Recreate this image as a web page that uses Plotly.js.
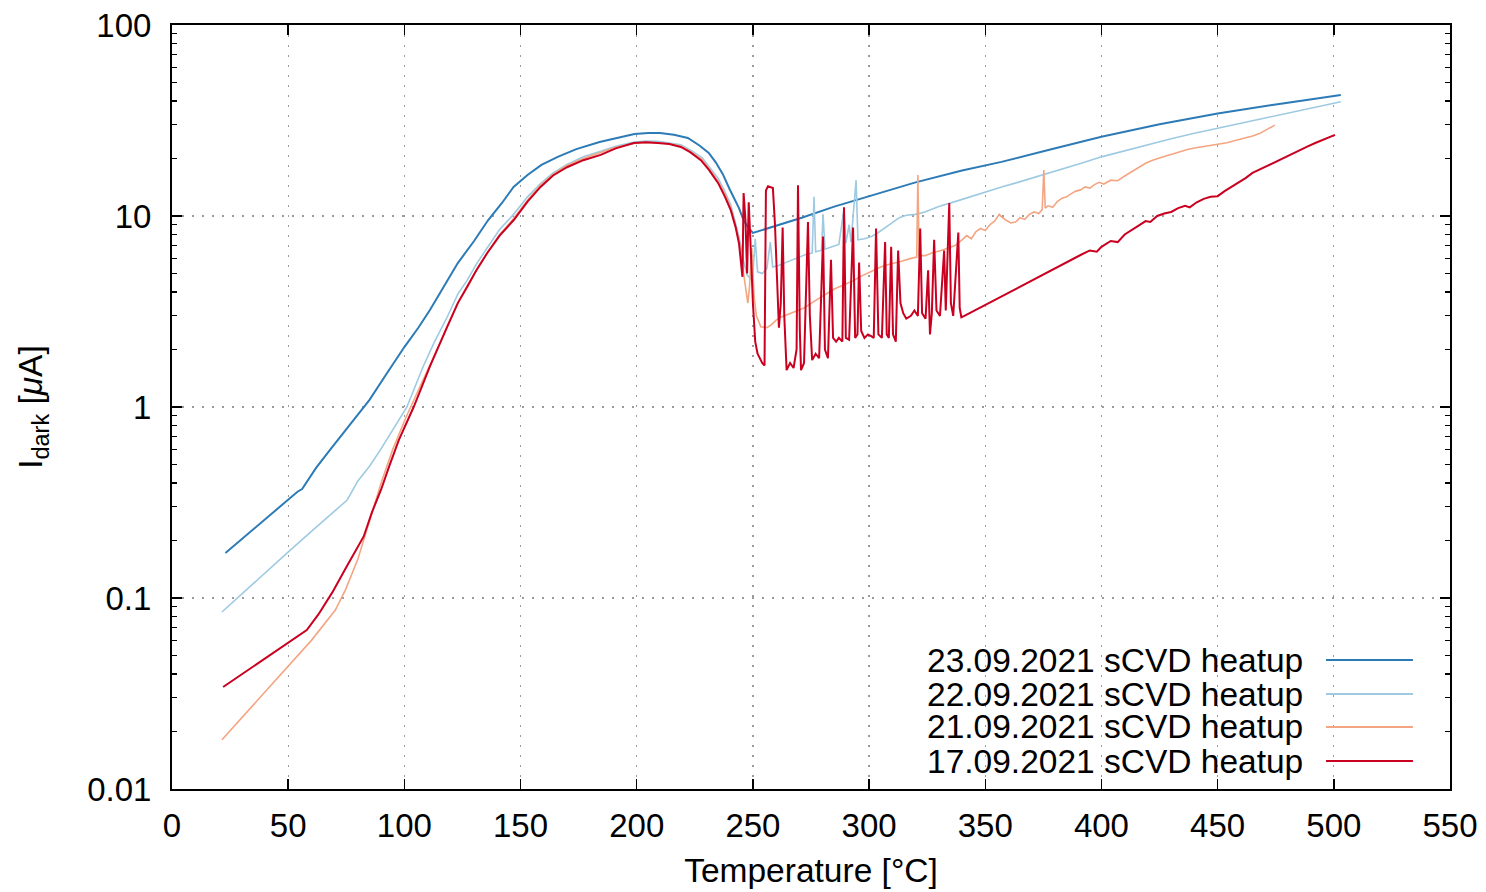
<!DOCTYPE html>
<html>
<head>
<meta charset="utf-8">
<script src="https://cdn.plot.ly/plotly-3.0.1.min.js"></script>
<style>html,body{margin:0;padding:0;background:#fff;}#chart{width:1486px;height:892px;}</style>
</head>
<body>
<div id="chart"></div>
<script>
// ---- data (temperature [°C], dark current [uA]) ----
const seriesNames = ["23.09.2021 sCVD heatup", "22.09.2021 sCVD heatup", "21.09.2021 sCVD heatup", "17.09.2021 sCVD heatup"];
const seriesColors = ["#2c7bb6", "#9ecae1", "#f4a582", "#ca0020"];

const t23 = [23,30,40,50,54,56,62,68,75,80,85,92,100,106,111,117,123,130,136,142,147,153,159,166,174,184,192,199,205,210,216,222,227,231,234,237,240,242,244,246,248,250,260,271,285,301,320,340,357,378,400,425,450,475,503];
const i23 = [0.172,0.203,0.258,0.327,0.36,0.372,0.48,0.596,0.766,0.91,1.09,1.47,2.06,2.6,3.22,4.27,5.67,7.4,9.5,11.7,14.2,16.4,18.5,20.4,22.4,24.4,25.7,26.9,27.2,27.2,26.6,25.6,23.4,21.4,19.1,16.6,13.8,12.3,11.0,9.5,8.7,8.15,8.9,9.8,11.2,12.8,15.0,17.3,19.2,22.3,26.0,30.2,34.4,38.4,43.0];

const t22 = [21.5,30,40,50.9,60,70,75.4,80,85,89.7,95,101.1,108,113,118.4,123,127,131,135.6,141,147,153,158.6,164,170,177,184.5,191,199,204,209,214,219,223,228,231,235,238,240.5,244,246,247.5,249,250,251,252,254,256,257.5,258.5,261,264,267,270,273,275.5,276.3,277,279.5,280.2,281,284,287,289.2,290,291.4,292.2,294.4,295.2,298,301,304,307,310,313,316,320,324,330,338,345,352,357,364,371,378,385,392,400,410,420,430,440,450,460,470,480,490,503];
const i22 = [0.0845,0.105,0.135,0.178,0.223,0.285,0.326,0.41,0.49,0.596,0.76,1.0,1.62,2.2,2.95,3.9,4.6,5.6,6.8,8.5,10.2,12.6,14.8,16.8,18.6,20.4,21.8,23.2,24.4,24.7,24.6,24.2,23.6,22.2,20.3,18.2,15.8,13.4,11.4,7.8,5.8,4.9,4.7,5.0,7.6,5.1,5.0,5.3,7.3,5.4,5.5,5.7,5.9,6.1,6.3,6.4,12.6,6.5,6.6,10.2,6.7,6.9,7.1,10.9,7.2,9.0,7.3,15.4,7.5,7.6,7.8,8.2,8.7,9.2,9.8,10.1,10.2,10.5,11.2,12.0,12.8,13.6,14.2,15.0,15.9,16.8,17.8,19.0,20.4,22.0,23.7,25.4,27.1,28.9,30.6,32.5,34.5,36.5,39.6];

const t21 = [21.5,30,40,49.6,60,70.3,74.6,80,85,90,95,101,107,112,118.4,123,127,131,135.6,141,147,153,158.6,164,170,177,184.5,191,199,204,209,214,219,223,228,231,235,238,240.5,244,246,247.8,248.5,249.5,250.5,251.5,253.4,256,258,260,262,265,268,272,276,279,282,285,288,291,293.5,296,299,302,305,308,311,314,318,320.5,321,321.5,324,327,331,334,337,340,342,344,346,348,350,352,354,356,357,359,361,363,365,367,369,371,373,374.5,375.2,375.8,377,379,381,383,385,387,389,391,393,395,397,399,401,404,407,410,413,416,419,422,425,428,431,434,437,440,443,446,450,454,458,462,465,468,471,474.6];
const i21 = [0.0181,0.0236,0.0323,0.0436,0.060,0.0865,0.110,0.16,0.25,0.40,0.60,0.90,1.3,1.75,2.6,3.5,4.2,5.2,6.4,8.0,9.7,12.1,14.5,16.5,18.4,20.0,21.5,22.9,24.0,24.3,24.2,23.9,23.2,21.8,19.8,17.8,15.2,13.0,11.0,7.5,5.0,3.5,4.2,6.8,3.8,3.0,2.63,2.6,2.7,2.85,2.95,3.05,3.15,3.3,3.55,3.75,3.95,4.15,4.3,4.45,4.6,4.8,5.0,5.2,5.4,5.55,5.7,5.8,6.0,6.1,16.4,6.2,6.2,6.4,6.6,6.8,7.0,7.5,7.9,7.6,8.3,8.6,8.4,9.0,9.4,10.2,9.9,9.5,9.2,9.3,9.8,9.6,10.2,10.5,10.3,10.8,17.4,11.0,11.3,11.1,11.9,12.4,12.6,13.1,13.5,13.7,14.2,14.0,14.6,15.0,14.7,15.4,15.3,16.2,17.1,18.0,18.9,19.6,20.2,20.7,21.2,21.8,22.3,22.7,23.0,23.2,23.6,24.2,24.9,25.6,26.2,27.0,28.2,29.9];

const t17 = [22,30,40,50,58,63,69,75,82.5,86,90,93.5,97.6,104,111,118.4,123,127,131,135.6,141,147,153,158.6,164,170,177,184.5,191,198.7,204,209,214,219,223,227.6,231,235,238,240.5,242.5,244,245.5,246,246.8,247.5,248.2,249,250,251,252,254,255,255.6,256.5,258.6,259.5,260.3,261.2,262,262.8,263.5,264.5,266,267.5,268.8,269.4,270.2,270.7,272,273.7,274.5,275.5,277,278.5,280.2,281,282.3,283.6,284.5,285.8,287,288.5,289.2,290,291.4,293.1,294,295,295.7,296.6,298,299.5,300.9,302,303,304,305.5,306.9,307.6,308.5,309.5,310.3,311.5,312.5,313.5,314.7,316,318,319.5,321,322,322.8,324.3,325.4,326.2,327,328,329,330.5,332.3,333,334.5,335.2,336.2,338.4,339,339.7,341,391,395,398,400,404,407,410,413,416,419,421,424,427,430,433,436,438,441,444,447,450,453,456,459,462,465,468,471,474,477,480,483,486,489,492,495,498,500.5];
const i17 = [0.0342,0.0398,0.048,0.058,0.068,0.082,0.107,0.145,0.21,0.28,0.37,0.49,0.671,1.0,1.63,2.63,3.5,4.26,5.2,6.38,7.9,9.5,11.9,14.2,16.3,18.0,19.6,20.9,22.6,24.1,24.3,24.1,23.8,23.0,21.6,19.6,17.5,14.9,12.6,10.7,8.8,7.2,4.8,13.2,9.5,5.0,11.8,7.0,3.5,2.2,1.9,1.7,1.65,13.6,14.3,14.0,9.0,5.0,2.6,3.5,8.7,3.0,1.56,1.7,1.6,2.0,14.5,2.5,1.56,1.7,9.3,3.0,1.76,1.9,1.8,7.8,2.0,1.8,5.9,2.3,2.2,2.3,2.2,11.1,2.3,2.25,8.7,2.3,2.4,5.7,2.5,2.3,2.4,2.35,2.3,8.6,2.4,2.3,7.3,2.4,2.3,6.9,2.4,2.2,6.6,3.5,3.1,2.9,3.0,3.2,3.0,8.6,3.1,2.9,5.2,2.4,3.1,7.5,3.2,3.0,6.6,3.2,11.7,3.5,3.0,8.2,3.3,2.95,3.0,6.25,6.6,6.5,6.9,7.4,7.3,8.0,8.4,8.9,9.4,9.3,10.0,10.3,10.5,11.0,11.3,11.1,11.8,12.3,12.6,12.7,13.5,14.2,15.0,15.8,16.8,17.5,18.3,19.0,19.8,20.6,21.5,22.3,23.2,24.1,25.0,25.8,26.6];

const xTickVals = [0,50,100,150,200,250,300,350,400,450,500,550];
const yTickVals = [0.01,0.1,1,10,100];
const yTickText = ["0.01","0.1","1","10","100"];
const yMinorVals = [];
[0.01,0.1,1,10].forEach(d => { for (let k = 2; k <= 9; k++) yMinorVals.push(+(d*k).toPrecision(3)); });

// ---- traces ----
const xs = [t23, t22, t21, t17];
const ys = [i23, i22, i21, i17];
const widths = [2, 1.6, 1.6, 2];
const traces = xs.map((x, k) => ({
  type: 'scatter', mode: 'lines', x: x, y: ys[k], name: seriesNames[k],
  line: {color: seriesColors[k], width: widths[k]}, showlegend: false
}));

// ---- legend (gnuplot style: right-aligned text, sample on the right) ----
const legendY = [0.1688, 0.1243, 0.0812, 0.0366];
const annotations = seriesNames.map((n, k) => ({
  xref: 'paper', yref: 'paper', x: 0.8865, y: legendY[k], xanchor: 'right', yanchor: 'middle',
  text: n, showarrow: false, font: {family: 'Liberation Sans, Arial, sans-serif', size: 33.5, color: '#000'}
}));
const shapes = seriesNames.map((n, k) => ({
  type: 'line', xref: 'paper', yref: 'paper', x0: 0.903, x1: 0.971, y0: legendY[k], y1: legendY[k],
  line: {color: seriesColors[k], width: 2}
}));

const font = {family: 'Liberation Sans, Arial, sans-serif', size: 33, color: '#000'};
const titleFont = {family: 'Liberation Sans, Arial, sans-serif', size: 33.5, color: '#000'};
const layout = {
  width: 1486, height: 892,
  margin: {l: 172, r: 36, t: 25, b: 103},
  paper_bgcolor: '#fff', plot_bgcolor: '#fff',
  font: font,
  showlegend: false,
  xaxis: {
    range: [0, 550], tickmode: 'array', tickvals: xTickVals,
    ticks: 'inside', ticklen: 10, tickwidth: 1.5, tickcolor: '#000',
    mirror: 'allticks', showline: true, linecolor: '#000', linewidth: 2,
    showgrid: true, gridcolor: '#9a9a9a', griddash: '2px,8px', gridwidth: 1.2, zeroline: false,
    tickfont: font, ticklabelstandoff: 6,
    title: {text: 'Temperature [°C]', font: titleFont, standoff: 16}
  },
  yaxis: {
    type: 'log', range: [-2, 2], tickmode: 'array', tickvals: yTickVals, ticktext: yTickText,
    ticks: 'inside', ticklen: 10, tickwidth: 1.5, tickcolor: '#000',
    minor: {tickmode: 'array', tickvals: yMinorVals, ticks: 'inside', ticklen: 5, tickwidth: 1.2, tickcolor: '#000', showgrid: false},
    mirror: 'allticks', showline: true, linecolor: '#000', linewidth: 2,
    showgrid: true, gridcolor: '#9a9a9a', griddash: '2px,8px', gridwidth: 1.2, zeroline: false,
    tickfont: font, ticklabelstandoff: 12,
    title: {text: 'I<sub>dark</sub> [<i>μ</i>A]', font: titleFont, standoff: 34}
  },
  annotations: annotations,
  shapes: shapes
};

Plotly.newPlot('chart', traces, layout, {displayModeBar: false, staticPlot: true});
</script>
</body>
</html>
